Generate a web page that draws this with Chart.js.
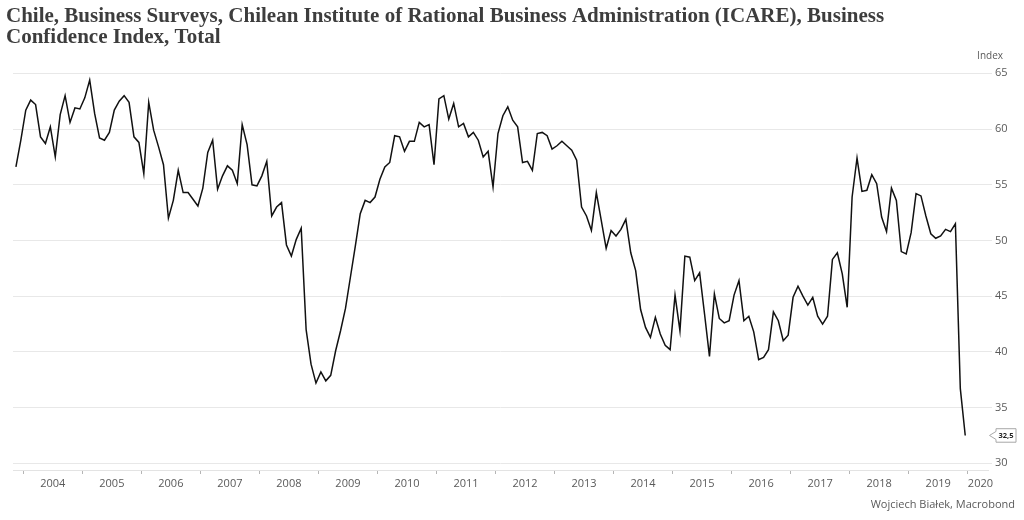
<!DOCTYPE html>
<html>
<head>
<meta charset="utf-8">
<script src="https://cdn.jsdelivr.net/npm/chart.js@4/dist/chart.umd.min.js"></script>
<style>
html,body{margin:0;padding:0;background:#fff;}
#wrap{width:1024px;height:520px;position:relative;}
</style>
</head>
<body>
<div id="wrap"><canvas id="c" width="1024" height="520"></canvas></div>
<script>
// ---- data ----
const titleLines = [
  "Chile, Business Surveys, Chilean Institute of Rational Business Administration (ICARE), Business",
  "Confidence Index, Total"
];
const unitLabel = "Index";
const sourceText = "Wojciech Białek, Macrobond";
const seriesName = "Business Confidence Index, Total";
const startYear = 2003;   // first observation: Nov 2003
const startMonth = 11;
const bci = [
  56.6, 59.0,
  61.7, 62.6, 62.2, 59.3, 58.7, 60.2, 57.5, 61.3, 63.0, 60.6, 61.9, 61.8,
  62.8, 64.4, 61.4, 59.2, 59.0, 59.7, 61.7, 62.5, 63.0, 62.4, 59.3, 58.8,
  56.0, 62.4, 59.9, 58.4, 56.8, 52.0, 53.6, 56.3, 54.3, 54.3, 53.7, 53.1,
  54.7, 57.9, 59.0, 54.6, 55.8, 56.7, 56.3, 55.1, 60.4, 58.6, 55.0, 54.9,
  55.8, 57.1, 52.2, 53.0, 53.4, 49.6, 48.6, 50.1, 51.1, 42.0, 38.9, 37.2,
  38.2, 37.4, 37.9, 40.1, 41.9, 43.9, 46.7, 49.5, 52.4, 53.6, 53.4, 53.9,
  55.5, 56.6, 57.0, 59.4, 59.3, 58.0, 58.9, 58.9, 60.6, 60.2, 60.4, 56.8,
  62.7, 63.0, 60.9, 62.3, 60.2, 60.5, 59.3, 59.7, 59.0, 57.5, 58.0, 54.8,
  59.6, 61.2, 62.0, 60.8, 60.2, 57.0, 57.1, 56.3, 59.6, 59.7, 59.4, 58.2,
  58.5, 58.9, 58.5, 58.1, 57.2, 53.0, 52.2, 50.9, 54.3, 51.8, 49.3, 50.9,
  50.4, 51.0, 51.9, 48.9, 47.3, 43.8, 42.2, 41.3, 43.1, 41.6, 40.6, 40.2,
  45.1, 41.9, 48.6, 48.5, 46.4, 47.1, 43.4, 39.6, 45.2, 43.0, 42.6, 42.8,
  45.1, 46.4, 42.8, 43.2, 41.8, 39.3, 39.5, 40.2, 43.6, 42.8, 41.0, 41.5,
  44.9, 45.9, 45.0, 44.2, 44.9, 43.2, 42.5, 43.2, 48.3, 48.9, 47.0, 44.0,
  53.9, 57.4, 54.4, 54.5, 55.9, 55.1, 52.1, 50.8, 54.7, 53.6, 49.0, 48.8,
  50.7, 54.2, 54.0, 52.2, 50.6, 50.2, 50.4, 51.0, 50.8, 51.5, 36.7, 32.5
];
const yearLabels = ["2004","2005","2006","2007","2008","2009","2010","2011","2012",
                    "2013","2014","2015","2016","2017","2018","2019","2020"];
const yTicks = [30, 35, 40, 45, 50, 55, 60, 65];

// ---- build points (mid-month dates in fractional years) ----
const points = bci.map((v, i) => ({ x: startYear + (startMonth - 1 + i + 0.5) / 12, y: v }));

const FONT = "'Open Sans', 'Noto Sans', sans-serif";
const TXT = "#5a5a5a";

const decor = {
  id: 'decor',
  afterDraw(chart) {
    const ctx = chart.ctx;
    const xs = chart.scales.x, ys = chart.scales.y;
    const area = chart.chartArea;
    ctx.save();
    // Title
    ctx.fillStyle = "#3d3d3d";
    ctx.textBaseline = "alphabetic";
    ctx.textAlign = "left";
    let fs = 20;
    ctx.font = "bold " + fs + "px 'Liberation Serif', serif";
    const w = ctx.measureText(titleLines[0]).width;
    fs = Math.min(21, fs * 911 / w);
    ctx.font = "bold " + fs.toFixed(2) + "px 'Liberation Serif', serif";
    ctx.fillText(titleLines[0], 6, 22);
    ctx.fillText(titleLines[1], 6, 43);
    // unit label
    ctx.font = "10px " + FONT;
    ctx.fillStyle = TXT;
    ctx.textAlign = "right";
    ctx.textBaseline = "middle";
    ctx.fillText(unitLabel, 1003, 56);
    // x labels centred within each year
    ctx.font = "11px " + FONT;
    ctx.textAlign = "center";
    ctx.textBaseline = "middle";
    yearLabels.forEach(lbl => {
      const yr = parseInt(lbl, 10);
      const tw = ctx.measureText(lbl).width;
      let px = xs.getPixelForValue(yr + 0.5);
      px = Math.min(px, area.right + 5 - tw / 2);
      ctx.fillText(lbl, px, 484);
    });
    // source
    ctx.textAlign = "right";
    ctx.fillText(sourceText, 1015, 505);
    // last value callout
    const last = points[points.length - 1];
    const py = ys.getPixelForValue(last.y);
    const bx = 996, bw = 20, bh = 13.5;
    const top = py - bh / 2, bot = py + bh / 2;
    ctx.beginPath();
    ctx.moveTo(bx, top);
    ctx.lineTo(bx + bw, top);
    ctx.lineTo(bx + bw, bot);
    ctx.lineTo(bx, bot);
    ctx.lineTo(bx, py + 4);
    ctx.lineTo(area.right + 1.5, py);
    ctx.lineTo(bx, py - 4);
    ctx.closePath();
    ctx.fillStyle = "#fff";
    ctx.fill();
    ctx.strokeStyle = "#a8a8a8";
    ctx.lineWidth = 1;
    ctx.stroke();
    ctx.fillStyle = "#222";
    ctx.font = "bold 7.5px " + FONT;
    ctx.textAlign = "center";
    ctx.fillText(last.y.toFixed(1).replace('.', ','), bx + bw / 2, py + 0.5);
    ctx.restore();
  }
};

new Chart(document.getElementById('c'), {
  type: 'line',
  data: {
    datasets: [{
      label: seriesName,
      data: points,
      borderColor: '#111111',
      borderWidth: 1.5,
      pointRadius: 0,
      tension: 0,
      fill: false
    }]
  },
  options: {
    responsive: false,
    animation: false,
    devicePixelRatio: 1,
    layout: { padding: { left: 13, top: 67, right: 0, bottom: 0 } },
    plugins: {
      legend: { display: false },
      title: { display: false },
      tooltip: { enabled: false }
    },
    scales: {
      x: {
        type: 'linear',
        position: 'bottom',
        min: 2003.8255,
        max: 2020.344,
        afterBuildTicks(scale) {
          scale.ticks = yearLabels.map(l => ({ value: parseInt(l, 10) }));
        },
        afterFit(scale) { scale.height = 50; },
        ticks: { callback: () => '', autoSkip: false, maxRotation: 0 },
        grid: { drawOnChartArea: false, drawTicks: true, tickLength: 4, color: '#b5b5b5' },
        border: { display: true, color: '#e3e3e3', width: 1 }
      },
      y: {
        type: 'linear',
        position: 'right',
        min: 29.4,
        max: 65.57,
        afterBuildTicks(scale) {
          scale.ticks = yTicks.map(v => ({ value: v }));
        },
        afterFit(scale) { scale.width = 36; },
        ticks: { color: TXT, font: { family: FONT, size: 11 }, padding: 3 },
        grid: { color: '#e8e8e8', tickLength: 4, drawTicks: true },
        border: { display: false }
      }
    }
  },
  plugins: [decor]
});
</script>
</body>
</html>
